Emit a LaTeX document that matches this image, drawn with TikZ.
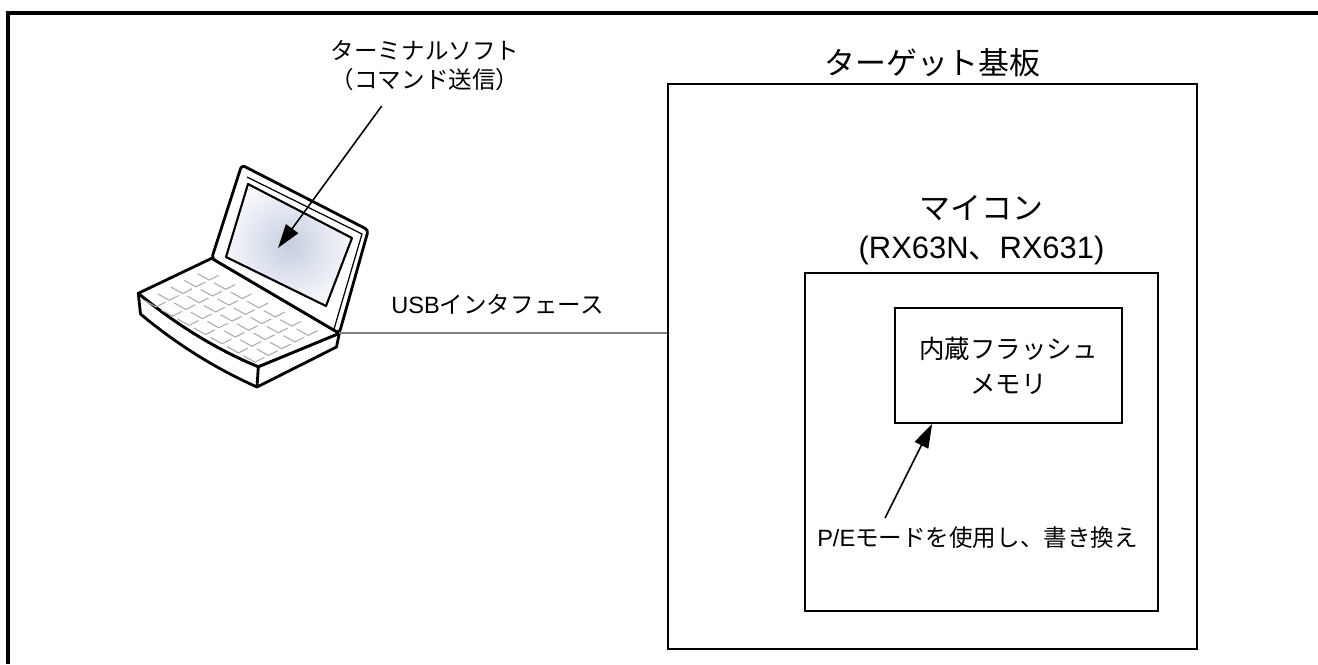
\documentclass[tikz,border=0pt]{standalone}
\usepackage{fontspec}
\setmainfont{Liberation Sans}
\newfontfamily\jpfont{Noto Sans CJK JP}
\newcommand{\ja}[1]{{\jpfont #1}}
\usetikzlibrary{calc,arrows.meta}
\definecolor{scrmid}{HTML}{C6CEE1}
\definecolor{scredge}{HTML}{F6F7FB}

\begin{document}
\begin{tikzpicture}[x=0.02cm,y=-0.02cm,>={Triangle[length=4.8mm,width=3mm]},
    box/.style={draw,line width=0.9pt,inner sep=0pt},
    lbl/.style={anchor=base,inner sep=0pt},
    big/.style={font=\fontsize{17.6}{21}\selectfont},
    mid/.style={font=\fontsize{13.4}{16}\selectfont},
    lap/.style={line width=1.6pt,line join=round,fill=white},
    key/.style={gray!65,line width=0.6pt}]
  \useasboundingbox (0,0) rectangle (1318,664);
  % page frame (open on the right and at the bottom)
  \draw[line width=2pt] (8,664) -- (8,13) -- (1318,13);

  % target board, MCU and flash
  \node[box,minimum width=10.58cm,minimum height=11.30cm] (board) at (932.5,366.5) {};
  \node[lbl,big] (boardname) at (932.5,74) {\ja{ターゲット基板}};
  \node[box,minimum width=7.06cm,minimum height=6.76cm] (mcu) at (981.5,442) {};
  \node[lbl,big] (mcuname) at (981.5,219) {\ja{マイコン}};
  \node[lbl,big] (mcupart) at (981.5,258) {(RX63N\ja{、}RX631)};
  \node[box,minimum width=4.54cm,minimum height=2.30cm,align=center,
    font=\fontsize{14.5}{19.8}\selectfont] (flash) at (1008.5,365.5)
    {\ja{内蔵フラッシュ}\\\ja{メモリ}};
  \node[lbl,mid] (pename) at (977.5,546) {P/E\ja{モードを使用し、書き換え}};
  \coordinate (petail) at (885,518);
  \draw[->,line width=0.9pt] (petail) -- ($(flash.south west)!0.166!(flash.south east)$);

  % laptop: base with keys
  \coordinate (bA) at (138.3,293.3);
  \coordinate (bB) at (211.7,258.3);
  \coordinate (hinge) at (339.3,333.3);
  \coordinate (bD) at (258.3,366.7);
  \draw[lap] (bA) -- (140.5,314) .. controls (180,347) and (219,370) .. (257,387)
    -- (336.5,347) -- (hinge) -- (bD) .. controls (218,350) and (178,326) .. (bA) -- cycle;
  \draw[lap] (bA) -- (bB) -- (hinge) -- (bD) .. controls (218,350) and (178,326) .. (bA) -- cycle;
  \draw[line width=1.6pt] (bD) -- (257,387);
  \coordinate (ku) at (16.5,9.2);
  \coordinate (kv) at (-13.3,6.7);
  \coordinate (k0) at (207,269);
  \foreach \i in {0,...,6}
    \foreach \j in {0,...,4}
      \draw[key] ($(k0)+\i*(ku)+\j*(kv)+0.7*(kv)$) -- ++($0.7*(ku)$) -- ++($-0.7*(kv)$);
  % lid and screen
  \draw[lap,rounded corners=2pt] (bB) -- (241.7,165) -- (368.3,230) -- (hinge) -- cycle;
  \draw[line width=0.7pt] (247,177) -- (362,234) -- (334,329);
  \draw[line width=1.2pt,line join=round,inner color=scrmid,outer color=scredge]
    (248,184) -- (352,238) -- (326,306) -- (226,257) -- cycle;

  % terminal software
  \node[lbl,mid] (termname) at (425,59) {\ja{ターミナルソフト}};
  \node[lbl,mid] (termnote) at (425,88) {\ja{（コマンド送信）}};
  \coordinate (termtail) at (381.7,106);
  \coordinate (scrtip) at (278,248);
  \draw[->,line width=0.9pt] (termtail) -- (scrtip);

  % USB link
  \draw[gray,line width=1pt] (hinge) -- (hinge -| board.west);
  \node[lbl,mid] (usbname) at (497.5,313) {USB\ja{インタフェース}};
\end{tikzpicture}
\end{document}
